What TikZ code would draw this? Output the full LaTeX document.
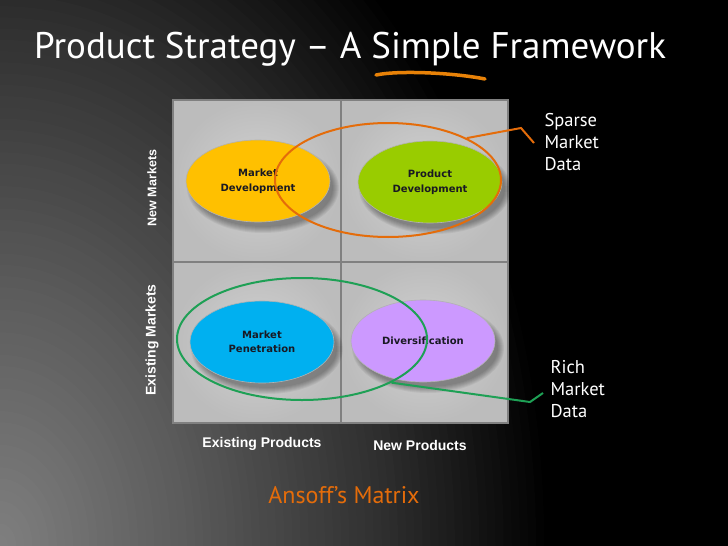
\documentclass[tikz,border=0pt]{standalone}
\usepackage{fontspec}
\setmainfont{PT Sans}
\newfontfamily\arialb{Liberation Sans}[BoldFont={Liberation Sans Bold}]
\newfontfamily\tahoma{DejaVu Sans}
\usetikzlibrary{shapes.geometric}
\definecolor{orng}{RGB}{228,108,10}
\definecolor{grn}{RGB}{30,160,85}
\definecolor{cellA}{RGB}{210,210,210}
\definecolor{cellB}{RGB}{188,188,188}
\definecolor{gridc}{RGB}{128,128,128}
\definecolor{yel}{RGB}{255,192,0}
\definecolor{lime}{RGB}{153,204,0}
\definecolor{sky}{RGB}{0,176,240}
\definecolor{lil}{RGB}{204,153,255}
\definecolor{ovaltext}{RGB}{25,25,35}
\newcommand{\ovalshadow}[2]{%
  \foreach \k in {0,...,6}{\fill[black, opacity=0.055] (#1+5,#2+7) ellipse ({70+\k} and {39+\k});}}
\begin{document}
\begin{tikzpicture}[x=1pt,y=-1pt,
  oval/.style={ellipse, minimum width=144pt, minimum height=82pt, inner sep=0pt,
    draw=black!30, line width=0.6pt, align=center,
    font=\tahoma\bfseries\fontsize{10}{14.5}\selectfont, text=ovaltext},
  ring/.style={ellipse, draw, line width=2pt, inner sep=0pt},
  cell/.style={inner color=cellA, outer color=cellB},
  axislab/.style={text=white, font=\arialb\bfseries\fontsize{14}{16}\selectfont},
  sidelab/.style={text=white, rotate=90},
  note/.style={text=white, anchor=north west, align=left, font=\fontsize{18.5}{22}\selectfont}
]
\useasboundingbox (0,0) rectangle (728,546);
% background
\fill[black] (0,0) rectangle (728,546);
\begin{scope}
\clip (0,0) rectangle (728,546);
\foreach \i in {68,...,1}{
  \pgfmathsetmacro{\t}{\i*0.0125}
  \pgfmathsetmacro{\L}{(\t<0.3) ? (128-126.67*\t) : ((\t<0.6) ? (90-146.67*(\t-0.3)) : (46-184*(\t-0.6)))}
  \pgfmathsetmacro{\g}{max(0,\L)/255}
  \definecolor{bgtmp}{gray}{\g}
  \fill[bgtmp] (0,546) ellipse ({650*\t} and {900*\t});
}
\end{scope}
% title
\node[anchor=base west, text=white, inner sep=0pt, font=\fontsize{37}{40}\selectfont] (title) at (34,58) {Product Strategy – A Simple Framework};
\draw[orng!85!yellow, line width=3.5pt, line cap=round] (376,75) .. controls (400,70) and (455,73) .. (485,79);
% matrix cells
\shade[cell] (173,100) rectangle (341,262);
\shade[cell] (341,100) rectangle (508,262);
\shade[cell] (173,262) rectangle (341,423);
\shade[cell] (341,262) rectangle (508,423);
\draw[gridc, line width=1.6pt] (173,100) rectangle (508,423);
\draw[gridc, line width=1.6pt] (341,100) -- (341,423);
\draw[gridc, line width=1.6pt] (173,262) -- (508,262);
% ovals
\ovalshadow{258}{181}
\ovalshadow{430}{182}
\ovalshadow{262}{342}
\ovalshadow{423}{341}
\node[oval, fill=yel] (md) at (258,181) {Market\\Development};
\node[oval, fill=lime] (pd) at (430,182) {Product\\Development};
\node[oval, fill=sky] (mp) at (262,342) {Market\\Penetration};
\node[oval, fill=lil] (dv) at (423,341) {Diversification};
% rings
\node[ring, draw=orng, minimum width=226pt, minimum height=114pt] (sme) at (388,180) {};
\node[ring, draw=grn, minimum width=250pt, minimum height=122pt] (rme) at (302,339) {};
% connectors
\coordinate (sb) at (521,128);
\coordinate (se) at (534,143);
\coordinate (rb) at (530,402);
\coordinate (re) at (543,393);
\draw[orng, line width=2pt] (sme.28) -- (sb) -- (se);
\draw[grn, line width=2pt] (rme.-26) -- (rb) -- (re);
% notes
\node[note] (sparse) at (541,110) {Sparse\\Market\\Data};
\node[note] (rich) at (547,357) {Rich\\Market\\Data};
% axis labels
\node[axislab] (ep) at (262,444) {Existing Products};
\node[axislab] (np) at (420,445) {New Products};
\node[sidelab, font=\arialb\bfseries\fontsize{12.5}{14}\selectfont] (nm) at (152,188) {New Markets};
\node[sidelab, font=\arialb\bfseries\fontsize{14}{16}\selectfont] (em) at (152,340) {Existing Markets};
% caption
\node[text=orng, font=\fontsize{24}{26}\selectfont] (cap) at (344,495) {Ansoff’s Matrix};
\end{tikzpicture}
\end{document}
